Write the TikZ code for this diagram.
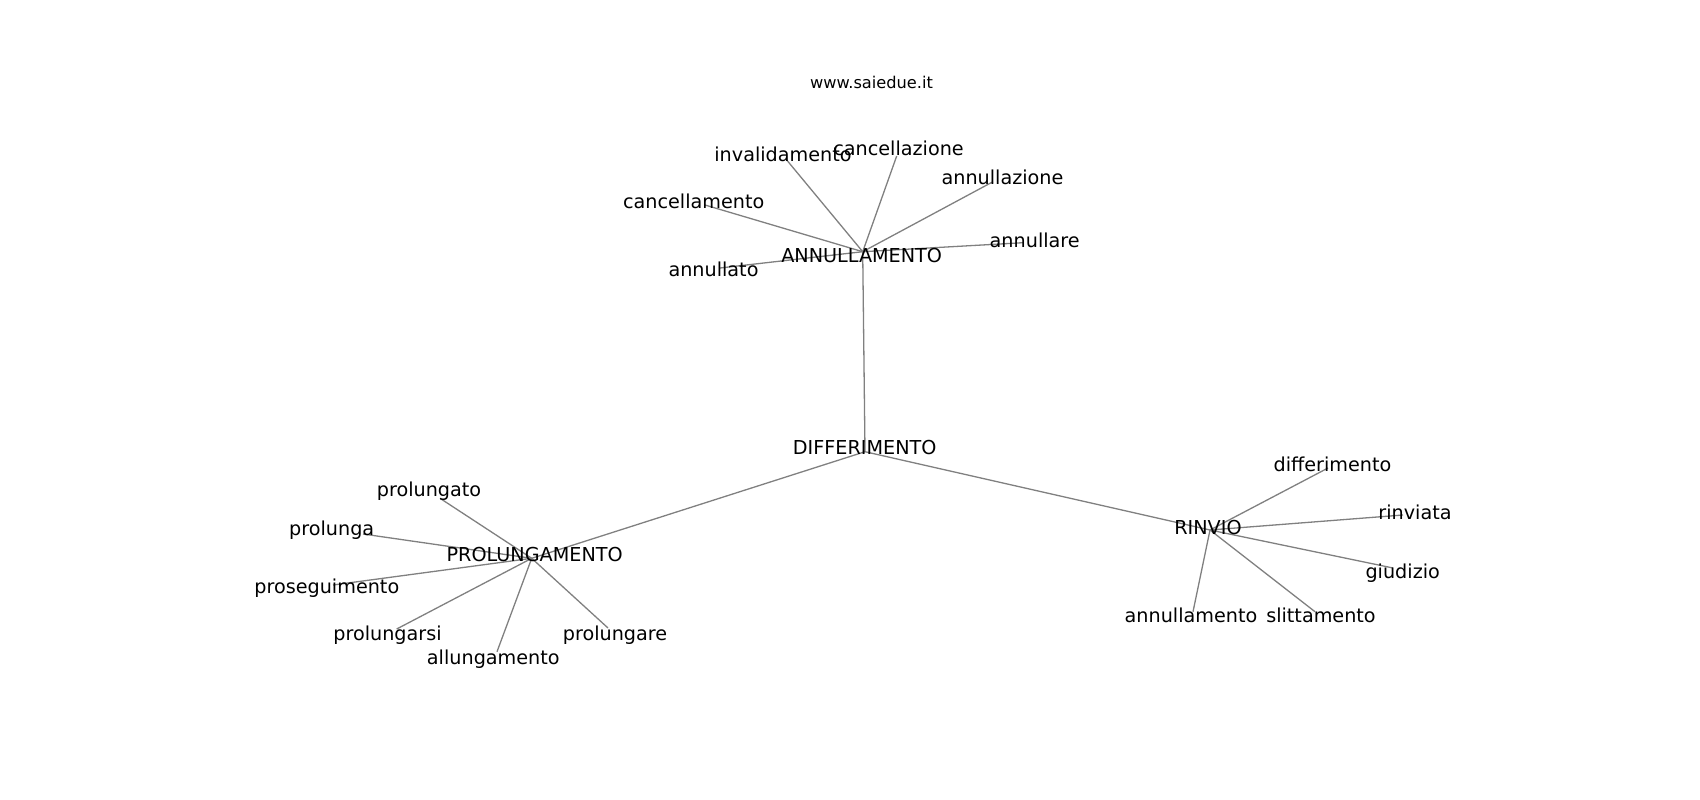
\documentclass[tikz,border=0pt]{standalone}
\usepackage{fontspec}
\setmainfont{DejaVu Sans}
\tikzset{
  word/.style={anchor=mid, yshift=-4.3pt, inner sep=0pt, font=\fontsize{19.2}{23}\selectfont},
  link/.style={draw=gray, line width=1.3pt},
}
\begin{document}
\begin{tikzpicture}[x=1pt,y=-1pt]
  \useasboundingbox (0,0) rectangle (1700,800);
  % graph points
  \coordinate (d) at (865,451.7);
  \coordinate (a) at (862.7,251.7);
  \coordinate (p) at (531.7,558.3);
  \coordinate (r) at (1210,530);
  \coordinate (a1) at (786.7,160);
  \coordinate (a2) at (896.7,156);
  \coordinate (a3) at (993,181.7);
  \coordinate (a4) at (705,205);
  \coordinate (a5) at (1023,242.7);
  \coordinate (a6) at (720,268);
  \coordinate (p1) at (440,498.3);
  \coordinate (p2) at (363,534);
  \coordinate (p3) at (333,585);
  \coordinate (p4) at (396.7,629);
  \coordinate (p5) at (497,651.7);
  \coordinate (p6) at (608,628);
  \coordinate (r1) at (1328,468);
  \coordinate (r2) at (1403,515);
  \coordinate (r3) at (1393,568);
  \coordinate (r4) at (1315,611.7);
  \coordinate (r5) at (1193,611.7);

  % edges
  \draw[link] (d) -- (a);
  \draw[link] (d) -- (p);
  \draw[link] (d) -- (r);
  \foreach \i in {1,...,6} {
    \draw[link] (a) -- (a\i);
    \draw[link] (p) -- (p\i);
  }
  \foreach \i in {1,...,5}
    \draw[link] (r) -- (r\i);

  % labels
  \node[anchor=mid, yshift=-4.3pt, inner sep=0pt, font=\fontsize{16.2}{19}\selectfont] (site) at (871.5,81.7) {www.saiedue.it};
  \node[word] (dl) at (864.7,447.3) {DIFFERIMENTO};
  \node[word] (al) at (861.7,255.7) {ANNULLAMENTO};
  \node[word] (pl) at (534.7,554) {PROLUNGAMENTO};
  \node[word] (rl) at (1208,527) {RINVIO};

  \node[word] (a1l) at (783,154) {invalidamento};
  \node[word] (a2l) at (898.5,148) {cancellazione};
  \node[word] (a3l) at (1002.5,177) {annullazione};
  \node[word] (a4l) at (693.7,201) {cancellamento};
  \node[word] (a5l) at (1034.7,240) {annullare};
  \node[word] (a6l) at (713.5,269.3) {annullato};

  \node[word] (p1l) at (429,489) {prolungato};
  \node[word] (p2l) at (331.7,528) {prolunga};
  \node[word] (p3l) at (326.8,586.7) {proseguimento};
  \node[word] (p4l) at (387.5,633) {prolungarsi};
  \node[word] (p5l) at (493.3,657) {allungamento};
  \node[word] (p6l) at (615,633) {prolungare};

  \node[word] (r1l) at (1332.5,464) {differimento};
  \node[word] (r2l) at (1415,512.7) {rinviata};
  \node[word] (r3l) at (1402.7,571) {giudizio};
  \node[word] (r4l) at (1321,615) {slittamento};
  \node[word] (r5l) at (1191,615) {annullamento};
\end{tikzpicture}
\end{document}
